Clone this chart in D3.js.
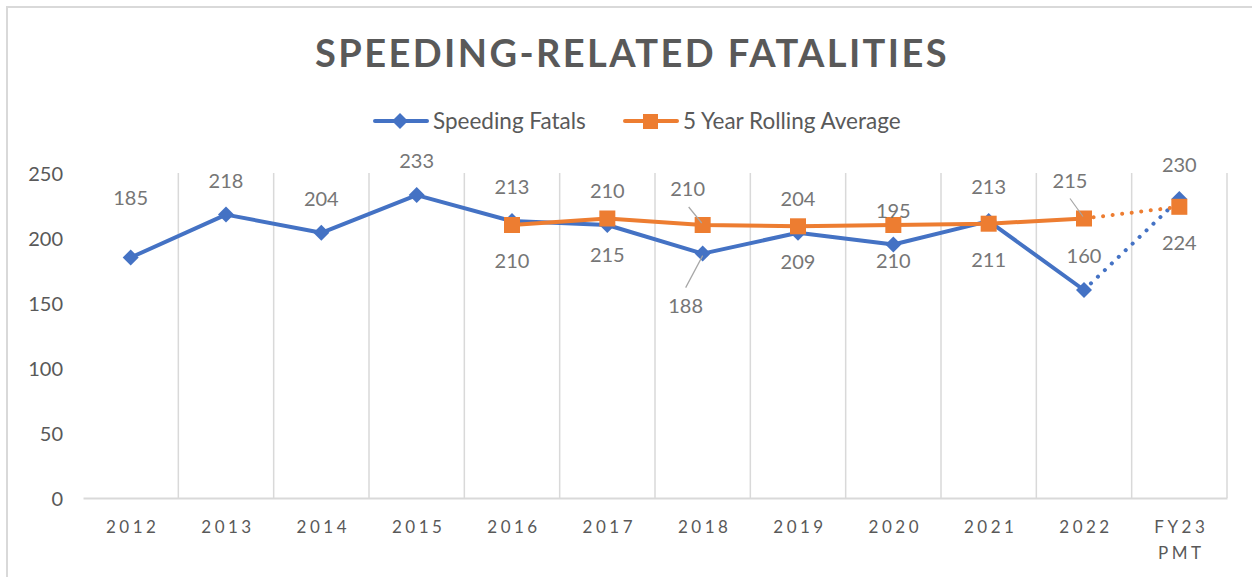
<!DOCTYPE html>
<html>
<head>
<meta charset="utf-8">
<script src="https://cdn.jsdelivr.net/npm/d3@7"></script>
<style>
  html, body { margin: 0; padding: 0; background: #fff; }
  svg { display: block; }
</style>
</head>
<body>
<svg id="chart" width="1252" height="577"></svg>
<script>
// ---- data ----
const categories = ["2012","2013","2014","2015","2016","2017","2018","2019","2020","2021","2022","FY23 PMT"];
const speedingFatals = [185, 218, 204, 233, 213, 210, 188, 204, 195, 213, 160, 230];
const rollingAverage = [null, null, null, null, 210, 215, 210, 209, 210, 211, 215, 224];
const yTicks = [0, 50, 100, 150, 200, 250];
const seriesNames = ["Speeding Fatals", "5 Year Rolling Average"];
const titleText = "SPEEDING-RELATED FATALITIES";

// ---- layout ----
const W = 1252, H = 577;
const plot = { left: 83, right: 1227, top: 173, bottom: 498 };
const blue = "#4472C4", orange = "#ED7D31";
const textGray = "#595959", labelGray = "#767676", gridGray = "#d9d9d9";
const FONT = "Lato, 'Open Sans', sans-serif";

const svg = d3.select("#chart");

// outer chart border
svg.append("rect").attr("x", 7).attr("y", 7).attr("width", W).attr("height", H)
  .attr("fill", "#fff").attr("stroke", gridGray).attr("stroke-width", 2);

const x = d3.scaleBand().domain(categories).range([plot.left, plot.right]).padding(0);
const y = d3.scaleLinear().domain([0, 250]).range([plot.bottom, plot.top]);
const cx = c => x(c) + x.bandwidth() / 2;

// vertical gridlines at category boundaries
const bounds = categories.slice(1).map(c => x(c)).concat([plot.right]);
svg.append("g").selectAll("line").data(bounds).join("line")
  .attr("x1", d => d).attr("x2", d => d)
  .attr("y1", plot.top).attr("y2", plot.bottom)
  .attr("stroke", gridGray).attr("stroke-width", 1.5);

// x axis
const xAxis = svg.append("g").attr("transform", `translate(0,${plot.bottom})`)
  .call(d3.axisBottom(x).tickSize(0).tickPadding(0));
xAxis.select(".domain").attr("stroke", gridGray).attr("stroke-width", 2);
xAxis.selectAll(".tick text").each(function(d) {
  const t = d3.select(this);
  t.text(null).attr("y", 0).attr("dy", null)
    .attr("font-family", FONT).attr("font-size", 17).attr("fill", textGray)
    .attr("letter-spacing", "3.5px");
  d.split(" ").forEach((part, i) => {
    t.append("tspan").attr("x", 2).attr("y", 35 + i * 26).text(part);
  });
});

// y axis (labels only)
const yAxis = svg.append("g").attr("transform", `translate(${plot.left},0)`)
  .call(d3.axisLeft(y).tickValues(yTicks).tickSize(0).tickPadding(20));
yAxis.select(".domain").remove();
yAxis.selectAll(".tick text").attr("font-family", FONT).attr("font-size", 20)
  .attr("fill", textGray).attr("dy", "0.35em");

// title
svg.append("text").attr("x", 632).attr("y", 67).attr("text-anchor", "middle")
  .attr("font-family", FONT).attr("font-weight", 700).attr("font-size", 38)
  .attr("letter-spacing", "2.4px").attr("fill", textGray).text(titleText);

// legend
const legend = svg.append("g");
function diamond(g, px, py, s) {
  g.append("path").attr("d", `M${px},${py - s} L${px + s},${py} L${px},${py + s} L${px - s},${py} Z`).attr("fill", blue);
}
legend.append("line").attr("x1", 375).attr("x2", 427).attr("y1", 121).attr("y2", 121)
  .attr("stroke", blue).attr("stroke-width", 4).attr("stroke-linecap", "round");
diamond(legend, 400, 121, 8);
legend.append("text").attr("x", 433).attr("y", 129).attr("font-family", FONT).attr("font-size", 22.5)
  .attr("fill", textGray).text(seriesNames[0]);
legend.append("line").attr("x1", 625).attr("x2", 677).attr("y1", 121).attr("y2", 121)
  .attr("stroke", orange).attr("stroke-width", 4).attr("stroke-linecap", "round");
legend.append("rect").attr("x", 643).attr("y", 114).attr("width", 15).attr("height", 15).attr("fill", orange);
legend.append("text").attr("x", 683).attr("y", 129).attr("font-family", FONT).attr("font-size", 22.5)
  .attr("fill", textGray).text(seriesNames[1]);

// series drawing
function drawSeries(values, color, marker) {
  const pts = categories.map((c, i) => ({ c, v: values[i], i })).filter(d => d.v != null);
  const solid = pts.slice(0, pts.length - 1);
  const dotted = pts.slice(pts.length - 2);
  const line = d3.line().x(d => cx(d.c)).y(d => y(d.v));
  svg.append("path").datum(solid).attr("d", line).attr("fill", "none")
    .attr("stroke", color).attr("stroke-width", 4).attr("stroke-linejoin", "round");
  svg.append("path").datum(dotted).attr("d", line).attr("fill", "none")
    .attr("stroke", color).attr("stroke-width", 4).attr("stroke-linecap", "round")
    .attr("stroke-dasharray", "0.1 9.5");
  const g = svg.append("g");
  pts.forEach(d => {
    if (marker === "diamond") diamond(g, cx(d.c), y(d.v), 8);
    else g.append("rect").attr("x", cx(d.c) - 8).attr("y", y(d.v) - 8)
      .attr("width", 16).attr("height", 16).attr("fill", color);
  });
  return pts;
}
const bluePts = drawSeries(speedingFatals, blue, "diamond");
const orangePts = drawSeries(rollingAverage, orange, "square");

// data labels: default above for blue, below for orange; some moved (with leader lines)
const moved = {
  "blue-2012": { dx: 0, dy: -60 },
  "blue-2018": { dx: -17, dy: 52, leader: [[0, 34], [17, 2]] },
  "orange-2018": { dx: -15, dy: -36, leader: [[1, -18], [14, -2]] },
  "orange-2022": { dx: -14, dy: -38, leader: [[0, -20], [13, -2]] }
};
function drawLabels(pts, key, defDy) {
  pts.forEach(d => {
    const m = moved[`${key}-${d.c}`] || { dx: 0, dy: defDy };
    const px = cx(d.c), py = y(d.v);
    if (m.leader) {
      svg.append("line")
        .attr("x1", px + m.dx + m.leader[0][0]).attr("y1", py + m.leader[0][1])
        .attr("x2", px + m.dx + m.leader[1][0]).attr("y2", py + m.leader[1][1])
        .attr("stroke", "#a6a6a6").attr("stroke-width", 1.2);
    }
    svg.append("text").attr("x", px + m.dx).attr("y", py + m.dy)
      .attr("dy", "0.35em").attr("text-anchor", "middle")
      .attr("font-family", FONT).attr("font-size", 20).attr("fill", labelGray)
      .text(d.v);
  });
}
drawLabels(bluePts, "blue", -34);
drawLabels(orangePts, "orange", 36);
</script>
</body>
</html>
